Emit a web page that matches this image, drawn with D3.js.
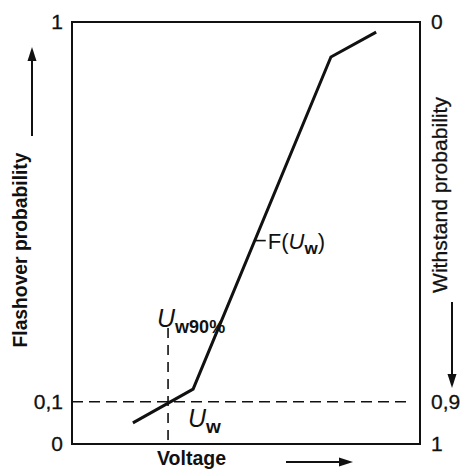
<!DOCTYPE html>
<html>
<head>
<meta charset="utf-8">
<script src="https://cdn.jsdelivr.net/npm/d3@7"></script>
<style>
  html, body { margin: 0; padding: 0; background: #fff; }
  svg { display: block; font-family: "Liberation Sans", Arial, Helvetica, sans-serif; }
</style>
</head>
<body>
<svg id="chart" width="468" height="471"></svg>
<script>
// Flashover characteristic F(U) of an insulation, drawn on a linearised probability scale
const voltage = [17.5, 34.8, 74.4, 87.4];
const flashover = [0.05, 0.13, 0.917, 0.976];

// Rated withstand voltage U_w and the 10 % flashover level (90 % withstand)
const withstandVoltage = 27.6;
const withstandLevel = 0.1;

const leftTicks = [0, 0.1, 1];
const leftTickLabels = ["0", "0,1", "1"];
const rightTicks = [0, 0.9, 1];
const rightTickLabels = ["0", "0,9", "1"];

const box = { left: 72, right: 420, top: 22, bottom: 444 };
const ink = "#111";

const svg = d3.select("#chart");

const x = d3.scaleLinear().domain([0, 100]).range([box.left, box.right]);
const y = d3.scaleLinear().domain([0, 1]).range([box.bottom, box.top]);
// withstand probability = 1 - flashover probability, so the right scale runs downward
const yW = d3.scaleLinear().domain([1, 0]).range([box.bottom, box.top]);

// frame
svg.append("rect")
  .attr("x", box.left).attr("y", box.top)
  .attr("width", box.right - box.left).attr("height", box.bottom - box.top)
  .attr("fill", "none").attr("stroke", ink).attr("stroke-width", 2);

// left axis: flashover probability
const gL = svg.append("g")
  .attr("transform", `translate(${box.left},0)`)
  .call(d3.axisLeft(y).tickValues(leftTicks)
    .tickFormat((d, i) => leftTickLabels[i])
    .tickSize(0).tickPadding(9));
// right axis: withstand probability
const gR = svg.append("g")
  .attr("transform", `translate(${box.right},0)`)
  .call(d3.axisRight(yW).tickValues(rightTicks)
    .tickFormat((d, i) => rightTickLabels[i])
    .tickSize(0).tickPadding(11));
[gL, gR].forEach(g => {
  g.select(".domain").remove();
  g.selectAll("text")
    .attr("font-size", 21)
    .attr("font-family", "Liberation Sans, Arial, sans-serif")
    .attr("fill", ink)
    .attr("stroke", ink).attr("stroke-width", 0.3);
});

// guide lines at the withstand level and at U_w
svg.append("line")
  .attr("x1", x(0)).attr("x2", x(97.4))
  .attr("y1", y(withstandLevel)).attr("y2", y(withstandLevel))
  .attr("stroke", ink).attr("stroke-width", 1.6)
  .attr("stroke-dasharray", "11,6");
svg.append("line")
  .attr("x1", x(withstandVoltage)).attr("x2", x(withstandVoltage))
  .attr("y1", y(0.275)).attr("y2", y(0))
  .attr("stroke", ink).attr("stroke-width", 1.6)
  .attr("stroke-dasharray", "10,7");

// characteristic
const line = d3.line().x(d => x(d[0])).y(d => y(d[1]));
svg.append("path")
  .datum(d3.zip(voltage, flashover))
  .attr("d", line)
  .attr("fill", "none").attr("stroke", ink)
  .attr("stroke-width", 3).attr("stroke-linejoin", "miter");

// label for the curve with a short leader
const leaderLevel = 0.482;
const seg = [[voltage[1], flashover[1]], [voltage[2], flashover[2]]];
const leaderV = seg[0][0] + (leaderLevel - seg[0][1]) / (seg[1][1] - seg[0][1]) * (seg[1][0] - seg[0][0]);
svg.append("line")
  .attr("x1", x(leaderV)).attr("x2", x(leaderV) + 11)
  .attr("y1", y(leaderLevel)).attr("y2", y(leaderLevel))
  .attr("stroke", ink).attr("stroke-width", 1.6);

function symbolLabel(xp, yp, parts) {
  const t = svg.append("text").attr("x", xp).attr("y", yp).attr("fill", ink);
  parts.forEach(p => {
    const s = t.append("tspan").text(p.text).attr("font-size", p.size);
    if (p.italic) s.attr("font-style", "italic");
    if (p.bold) s.attr("font-weight", "bold");
    if (p.dy) s.attr("dy", p.dy);
  });
  return t;
}

symbolLabel(x(leaderV) + 13, y(leaderLevel) + 8, [
  { text: "F(", size: 22 },
  { text: "U", size: 22, italic: true },
  { text: "w", size: 17, bold: true, dy: 5 },
  { text: ")", size: 22, dy: -5 }
]);

symbolLabel(x(withstandVoltage) - 11, y(0.275) - 1, [
  { text: "U", size: 25, italic: true },
  { text: "w90%", size: 18, bold: true, dy: 6 }
]);

symbolLabel(x(withstandVoltage) + 20, y(withstandLevel) + 25, [
  { text: "U", size: 25, italic: true },
  { text: "w", size: 19, bold: true, dy: 6 }
]);

// axis titles
svg.append("text")
  .attr("transform", "translate(27,250) rotate(-90)")
  .attr("text-anchor", "middle")
  .attr("font-size", 19.5).attr("font-weight", "bold").attr("fill", ink)
  .attr("textLength", 195).attr("lengthAdjust", "spacingAndGlyphs")
  .text("Flashover probability");

svg.append("text")
  .attr("transform", "translate(447,195) rotate(-90)")
  .attr("text-anchor", "middle")
  .attr("font-size", 20).attr("fill", ink)
  .attr("stroke", ink).attr("stroke-width", 0.3)
  .attr("textLength", 196).attr("lengthAdjust", "spacingAndGlyphs")
  .text("Withstand probability");

svg.append("text")
  .attr("x", 157).attr("y", 465)
  .attr("font-size", 19.5).attr("font-weight", "bold").attr("fill", ink)
  .text("Voltage");

// direction arrows
function arrow(x1, y1, x2, y2) {
  const a = Math.atan2(y2 - y1, x2 - x1);
  const len = 14, half = 4.5;
  const bx = x2 - len * Math.cos(a), by = y2 - len * Math.sin(a);
  svg.append("line")
    .attr("x1", x1).attr("y1", y1).attr("x2", bx).attr("y2", by)
    .attr("stroke", ink).attr("stroke-width", 2);
  const px = -Math.sin(a) * half, py = Math.cos(a) * half;
  svg.append("path")
    .attr("d", `M${x2},${y2}L${bx + px},${by + py}L${bx - px},${by - py}Z`)
    .attr("fill", ink);
}
arrow(32, 136, 32, 47);
arrow(452, 302, 452, 388);
arrow(286, 462, 353, 462);
</script>
</body>
</html>
